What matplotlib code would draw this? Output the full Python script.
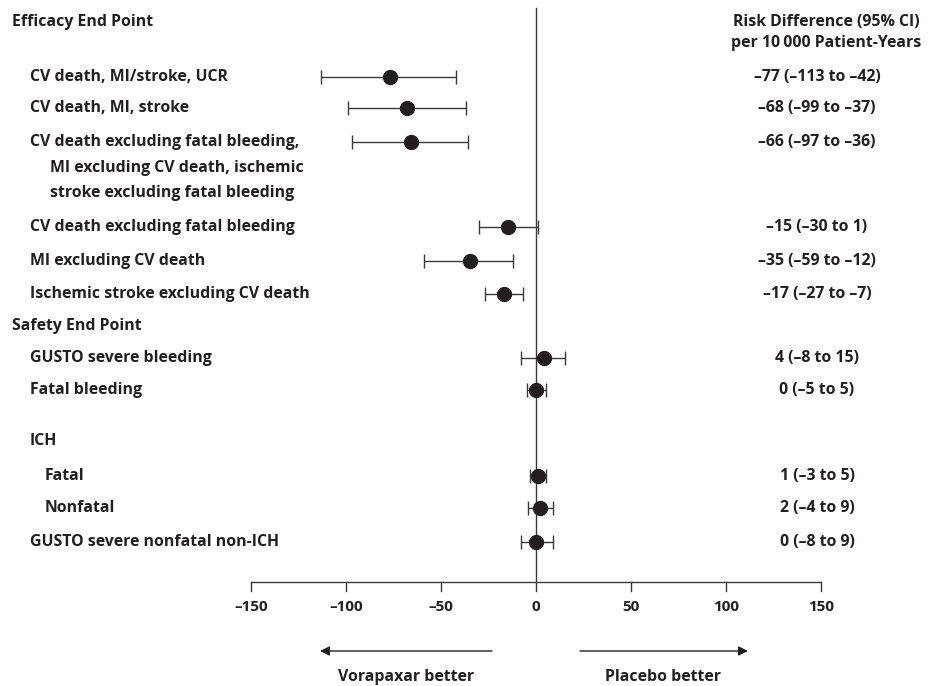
import matplotlib
matplotlib.use("Agg")
import matplotlib.pyplot as plt

# ---- data ----
labels = [
    "CV death, MI/stroke, UCR",
    "CV death, MI, stroke",
    "CV death excluding fatal bleeding,\nMI excluding CV death, ischemic\nstroke excluding fatal bleeding",
    "CV death excluding fatal bleeding",
    "MI excluding CV death",
    "Ischemic stroke excluding CV death",
    "GUSTO severe bleeding",
    "Fatal bleeding",
    "Fatal",
    "Nonfatal",
    "GUSTO severe nonfatal non-ICH",
]
estimates = [-77, -68, -66, -15, -35, -17, 4, 0, 1, 2, 0]
lower = [-113, -99, -97, -30, -59, -27, -8, -5, -3, -4, -8]
upper = [-42, -37, -36, 1, -12, -7, 15, 5, 5, 9, 9]
xticks = [-150, -100, -50, 0, 50, 100, 150]
headers = ["Efficacy End Point", "Safety End Point", "ICH"]

# ---- layout (pixel rows) ----
W, H = 930, 686
row_y = [77, 108, 142, 227, 261, 294, 358, 390, 476, 508, 542]
row_x_px = [30, 30, 30, 30, 30, 30, 30, 30, 45, 45, 30]
header_y = [22, 326, 441]
header_x_px = [12, 12, 30]
axis_y = 582
px_lo, px_hi = 251, 821
upp = 300 / (px_hi - px_lo)
XMIN = -150 - px_lo * upp
XMAX = 150 + (W - px_hi) * upp

def px2x(p):
    return XMIN + p * upp

TXT = "#231f20"
LINE = "#3a3a3a"
plt.rcParams["font.family"] = ["Open Sans", "DejaVu Sans"]
FS = 11.4
FW = "bold"

fig = plt.figure(figsize=(W / 100, H / 100), dpi=100)
ax = fig.add_axes([0, 0, 1, 1])
ax.set_xlim(XMIN, XMAX)
ax.set_ylim(H, 0)
ax.axis("off")

# zero line
ax.plot([0, 0], [8, axis_y], color=LINE, lw=1.0, zorder=1)

# error bars and points
for est, lo, hi, y in zip(estimates, lower, upper, row_y):
    ax.errorbar(est, y, xerr=[[est - lo], [hi - est]], fmt="o", color=TXT,
                ecolor=LINE, elinewidth=1.0, capsize=5.2, capthick=1.0,
                markersize=10, zorder=3)

# labels
for lab, y, xp in zip(labels, row_y, row_x_px):
    lines = lab.split("\n")
    for i, ln in enumerate(lines):
        ax.text(px2x(xp if i == 0 else xp + 20), y + i * 25.5, ln,
                ha="left", va="center", fontsize=FS, fontweight=FW, color=TXT)

for h, y, xp in zip(headers, header_y, header_x_px):
    ax.text(px2x(xp), y, h, ha="left", va="center", fontsize=FS,
            fontweight=FW, color=TXT)

# right column
def fmt(v):
    return str(v).replace("-", "\u2013")

ax.text(px2x(826), 22, "Risk Difference (95% CI)", ha="center", va="center",
        fontsize=FS, fontweight=FW, color=TXT)
ax.text(px2x(826), 43, "per 10\u2009000 Patient-Years", ha="center", va="center",
        fontsize=FS, fontweight=FW, color=TXT)
for est, lo, hi, y in zip(estimates, lower, upper, row_y):
    ax.text(px2x(817), y, f"{fmt(est)} ({fmt(lo)} to {fmt(hi)})", ha="center",
            va="center", fontsize=FS, fontweight=FW, color=TXT)

# x axis
ax.plot([xticks[0], xticks[-1]], [axis_y, axis_y], color=LINE, lw=1.0)
for t in xticks:
    ax.plot([t, t], [axis_y, axis_y + 9], color=LINE, lw=1.0)
    ax.text(t, 607, fmt(t), ha="center", va="center", fontsize=11,
            fontweight=FW, color=TXT)

# arrows
ax.annotate("", xy=(px2x(320), 651), xytext=(px2x(492), 651),
            arrowprops=dict(arrowstyle="-|>", color=TXT, lw=1.0,
                            mutation_scale=14, shrinkA=0, shrinkB=0))
ax.annotate("", xy=(px2x(748), 651), xytext=(px2x(580), 651),
            arrowprops=dict(arrowstyle="-|>", color=TXT, lw=1.0,
                            mutation_scale=14, shrinkA=0, shrinkB=0))
ax.text(px2x(406), 677, "Vorapaxar better", ha="center", va="center",
        fontsize=FS, fontweight=FW, color=TXT)
ax.text(px2x(663), 677, "Placebo better", ha="center", va="center",
        fontsize=FS, fontweight=FW, color=TXT)

fig.savefig("out.png", dpi=100)
